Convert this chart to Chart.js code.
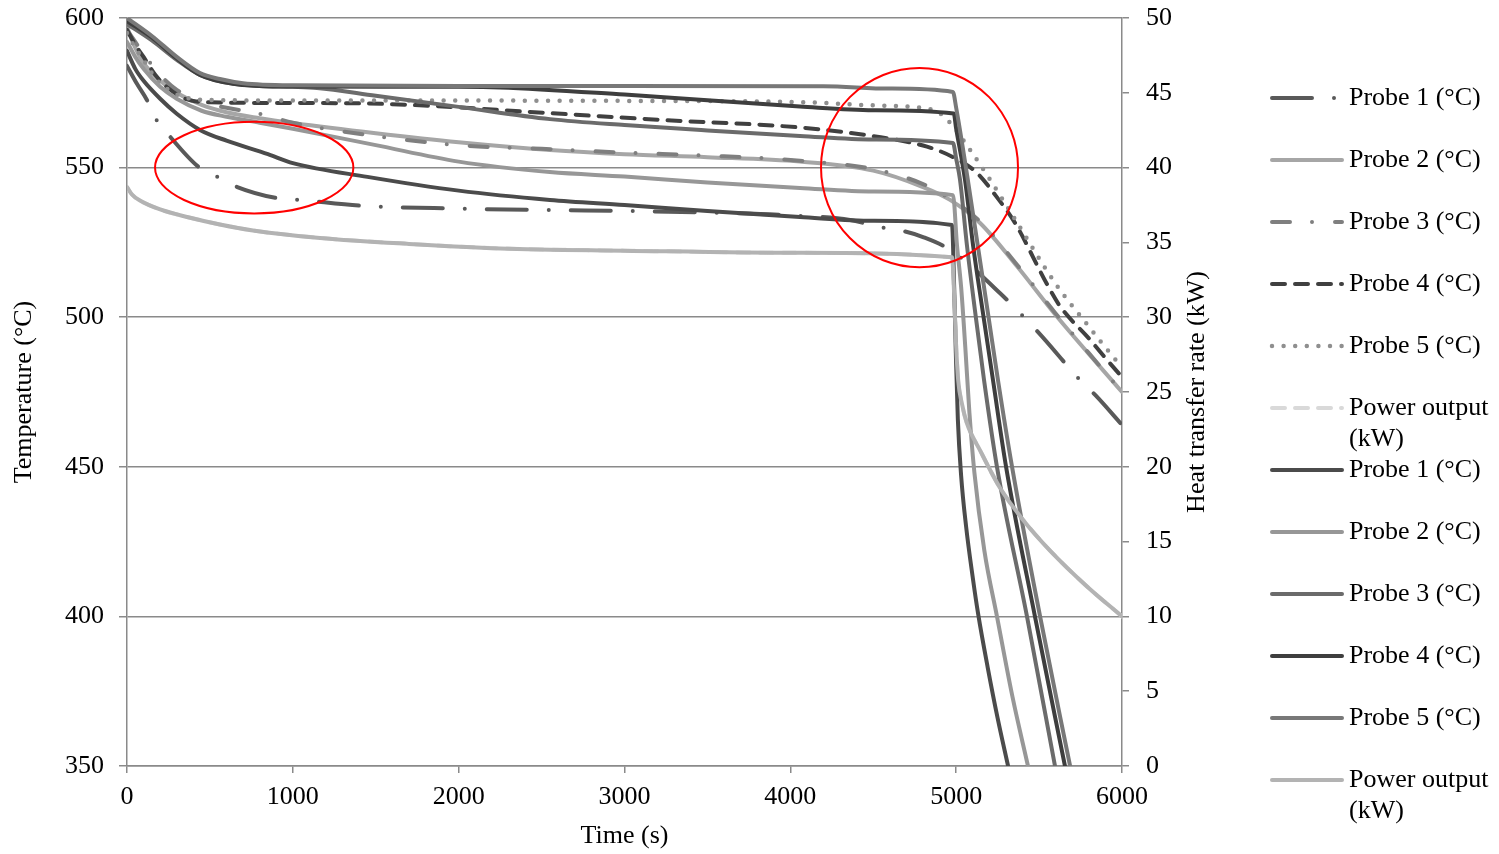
<!DOCTYPE html>
<html lang="en">
<head>
<meta charset="UTF-8">
<title>Probe temperatures and heat transfer rate</title>
<style>
  html, body { margin: 0; padding: 0; background: #fff; }
  #wrap { position: relative; width: 1499px; height: 854px; }
</style>
</head>
<body>
<div id="wrap"><canvas id="chart"></canvas></div>
<script src="https://cdn.jsdelivr.net/npm/chart.js"></script>
<script>
// Values: time (s) and temperature (°C) / power (kW)

// first group (patterned lines)
const p1aT = [0, 60, 120, 170, 250, 430, 545, 665, 905, 1045, 1400, 2000, 2550, 3000, 3500, 4000, 4360, 4540, 4680, 4800, 4963, 5265, 5494, 5747, 5844, 6000];
const p1aV = [584, 578, 572.6, 566.6, 561, 550.3, 546.9, 543.5, 539.8, 539.2, 537.3, 536.3, 535.8, 535.5, 535, 534, 532.5, 530.1, 528.8, 526.8, 522.5, 508, 495, 479, 473.7, 464];

const p2aT = [0, 50, 100, 200, 300, 450, 600, 800, 1000, 1500, 2000, 2550, 3000, 3500, 4058, 4500, 4800, 4963, 5144, 5367, 5596, 6000];
const p2aV = [597, 590, 585, 579, 575, 571, 568.5, 566.5, 564.9, 561.5, 558.5, 555.9, 554.5, 553.5, 552, 549, 543.5, 539.2, 531.5, 517, 501, 475];

const p3aT = [0, 50, 100, 200, 300, 450, 600, 800, 1000, 1240, 2000, 2500, 3000, 3500, 4058, 4500, 4800, 4963, 5144, 5367, 5596, 5800, 6000];
const p3aV = [596, 592, 588, 581, 576, 572, 570, 568, 565, 562.6, 557.5, 556.3, 555, 554, 552.3, 549.5, 544.5, 539.5, 532, 517.5, 501.5, 488, 475];

const p4aT = [0, 50, 100, 170, 250, 350, 500, 1000, 1600, 2550, 3200, 4058, 4500, 4824, 4981, 5120, 5243, 5355, 5548, 5626, 5807, 5898, 6000];
const p4aV = [596, 591, 587, 581, 576.5, 573, 571.8, 571.6, 571.2, 568.2, 566, 563.4, 560.5, 557, 553.5, 548.5, 540.3, 531.5, 511, 503.7, 492.5, 486.5, 480];

const p5aT = [0, 50, 100, 170, 250, 350, 500, 1000, 2000, 3000, 4058, 4500, 4860, 4963, 5083, 5192, 5307, 5608, 5777, 5958, 6000];
const p5aV = [595, 590, 586, 580, 576, 573.5, 572.6, 572.4, 572.4, 572.3, 571.9, 570.8, 569.3, 565, 556, 547, 537, 510.5, 498.5, 486, 483.4];

const powAT = [0, 30, 78, 200, 362, 560, 760, 1164, 1700, 2250, 3000, 4058, 4975, 4988, 4998, 5012, 5035, 5065, 5144, 5264, 5400, 5566, 5789, 6000];
const powAV = [38.7, 38.2, 37.8, 37.2, 36.7, 36.2, 35.8, 35.3, 34.9, 34.6, 34.45, 34.3, 34.0, 31.5, 28.5, 25.8, 24.2, 22.9, 21.1, 18.6, 16.5, 14.4, 12.0, 10.0];

// second group (solid lines)
const p1bT = [0, 50, 100, 200, 300, 440, 600, 850, 1000, 1450, 2000, 2550, 3000, 3500, 4058, 4500, 4975, 4988, 4998, 5010, 5030, 5060, 5100, 5132, 5190, 5250, 5313];
const p1bV = [589, 583, 579, 573, 568, 562.6, 559, 554.5, 551.5, 546.9, 542.3, 539.2, 537.5, 535.5, 533.5, 532.2, 530.8, 510, 488, 466, 447, 430, 413, 401, 383, 366, 350];

const p2bT = [0, 50, 100, 200, 300, 450, 600, 800, 1000, 1500, 2000, 2550, 3000, 3500, 4058, 4500, 4981, 5005, 5030, 5055, 5080, 5110, 5170, 5246, 5340, 5433];
const p2bV = [592, 587, 583, 577, 573, 569, 567, 565, 563, 557.5, 552, 548.5, 547, 545, 543.2, 542, 540.8, 524, 510, 490, 468, 448, 422, 400, 373, 350];

const p3bT = [0, 150, 300, 440, 640, 800, 1000, 1146, 1500, 2000, 2551, 3000, 3500, 4058, 4500, 4981, 5000, 5023, 5065, 5114, 5168, 5246, 5427, 5596];
const p3bV = [598, 592.5, 586, 581, 578, 577.3, 577, 576.6, 574, 570.3, 566.2, 564.2, 562.4, 560.6, 559.4, 558.2, 553, 546, 524, 502, 479, 450, 400, 350];

const p4bT = [0, 150, 300, 440, 640, 800, 1000, 2000, 2250, 3000, 3500, 4058, 4500, 4985, 5000, 5053, 5102, 5160, 5222, 5301, 5475, 5656];
const p4bV = [599, 593.5, 586.5, 581, 578, 577.3, 577.1, 577, 576.8, 574.4, 572.5, 570.4, 569.2, 568.1, 563, 546, 524, 502, 479, 450, 400, 350];

const p5bT = [0, 150, 300, 440, 560, 700, 1000, 2000, 3000, 4200, 4600, 4980, 5000, 5070, 5130, 5190, 5252, 5337, 5506, 5687];
const p5bV = [600, 594, 587, 581.6, 579.6, 578.2, 577.5, 577.3, 577.3, 577.2, 576.4, 575.3, 570, 546, 524, 502, 479, 450, 400, 350];

const powBT = powAT;
const powBV = powAV;

// tick ranges
const timeTicks = [0, 6000, 1000];
const tempTicks = [350, 600, 50];
const powerTicks = [0, 50, 5];

// red rings drawn on the plot (centre and half-axes in data units)
const ringX = [767, 4779];
const ringY = [550, 550];
const ringRx = [598, 594];
const ringRy = [15.3, 33.3];

const FONT = '"Liberation Serif", "Times New Roman", serif';

function pts(t, v) {
    return t.map((x, i) => ({ x: x, y: v[i] }));
}

const series = [
    { label: 'Probe 1 (°C)', data: pts(p1aT, p1aV), color: '#595959', dash: [40, 22, 0, 22], axis: 'y' },
    { label: 'Probe 2 (°C)', data: pts(p2aT, p2aV), color: '#a6a6a6', dash: [], axis: 'y' },
    { label: 'Probe 3 (°C)', data: pts(p3aT, p3aV), color: '#7f7f7f', dash: [18, 22, 0, 23], axis: 'y' },
    { label: 'Probe 4 (°C)', data: pts(p4aT, p4aV), color: '#404040', dash: [13, 10], axis: 'y' },
    { label: 'Probe 5 (°C)', data: pts(p5aT, p5aV), color: '#8f8f8f', dash: [0, 11.6], axis: 'y' },
    { label: 'Power output (kW)', data: pts(powAT, powAV), color: '#d9d9d9', dash: [13, 10], axis: 'y2' },
    { label: 'Probe 1 (°C)', data: pts(p1bT, p1bV), color: '#4b4b4b', dash: [], axis: 'y' },
    { label: 'Probe 2 (°C)', data: pts(p2bT, p2bV), color: '#979797', dash: [], axis: 'y' },
    { label: 'Probe 3 (°C)', data: pts(p3bT, p3bV), color: '#6b6b6b', dash: [], axis: 'y' },
    { label: 'Probe 4 (°C)', data: pts(p4bT, p4bV), color: '#3e3e3e', dash: [], axis: 'y' },
    { label: 'Probe 5 (°C)', data: pts(p5bT, p5bV), color: '#787878', dash: [], axis: 'y' },
    { label: 'Power output (kW)', data: pts(powBT, powBV), color: '#b3b3b3', dash: [], axis: 'y2' }
];

const datasets = series.map((s, i) => ({
    label: s.label,
    data: s.data,
    yAxisID: s.axis,
    borderColor: s.color,
    borderWidth: s.dash.length && s.dash[0] === 0 ? 4.5 : 4,
    borderDash: s.dash,
    borderCapStyle: 'round',
    borderJoinStyle: 'round',
    pointRadius: 0,
    fill: false,
    cubicInterpolationMode: 'monotone',
    order: series.length - i // later series on top, like the original
}));

// rings, right axis title and the legend
const extras = {
    id: 'extras',
    afterDatasetsDraw(chart) {
        const ctx = chart.ctx;
        const xs = chart.scales.x, ys = chart.scales.y;

        ctx.save();
        ctx.strokeStyle = '#ff0000';
        ctx.lineWidth = 2;
        for (let i = 0; i < ringX.length; i++) {
            const cx = xs.getPixelForValue(ringX[i]);
            const cy = ys.getPixelForValue(ringY[i]);
            const rx = xs.getPixelForValue(ringX[i] + ringRx[i]) - cx;
            const ry = ys.getPixelForValue(ringY[i] - ringRy[i]) - cy;
            ctx.beginPath();
            ctx.ellipse(cx, cy, rx, ry, 0, 0, Math.PI * 2);
            ctx.stroke();
        }
        ctx.restore();

        // right axis title, reading bottom to top
        ctx.save();
        ctx.font = '26px ' + FONT;
        ctx.fillStyle = '#000';
        ctx.textAlign = 'center';
        ctx.textBaseline = 'middle';
        ctx.translate(1197, (chart.chartArea.top + chart.chartArea.bottom) / 2);
        ctx.rotate(-Math.PI / 2);
        ctx.fillText('Heat transfer rate (kW)', 0, 0);
        ctx.restore();

        // legend
        ctx.save();
        ctx.font = '26px ' + FONT;
        ctx.textBaseline = 'middle';
        ctx.textAlign = 'left';
        series.forEach((s, i) => {
            const y = 98 + 62 * i;
            const ds = datasets[i];
            ctx.strokeStyle = ds.borderColor;
            ctx.lineWidth = ds.borderWidth;
            ctx.lineCap = 'round';
            ctx.setLineDash(ds.borderDash);
            ctx.beginPath();
            ctx.moveTo(1272, y);
            ctx.lineTo(1342, y);
            ctx.stroke();
            ctx.setLineDash([]);
            ctx.fillStyle = '#000';
            // wrap long labels by words
            const words = s.label.split(' ');
            let line = '', ly = y;
            words.forEach(w => {
                const test = line ? line + ' ' + w : w;
                if (ctx.measureText(test).width > 150 && line) {
                    ctx.fillText(line, 1349, ly);
                    line = w;
                    ly += 31;
                } else {
                    line = test;
                }
            });
            ctx.fillText(line, 1349, ly);
        });
        ctx.restore();
    }
};

const plain = v => String(v);

// fixed box sizes so the plot area lands where it is in the original
function fitV(w) {
    return scale => { scale.width = w; scale.paddingTop = 0; scale.paddingBottom = 0; };
}

new Chart(document.getElementById('chart'), {
    type: 'line',
    data: { datasets: datasets },
    options: {
        responsive: true,
        maintainAspectRatio: false,
        animation: false,
        devicePixelRatio: 1,
        layout: { padding: { left: 0, right: 274, top: 18, bottom: 0 } },
        plugins: {
            legend: { display: false },
            tooltip: { enabled: false }
        },
        scales: {
            x: {
                type: 'linear',
                min: timeTicks[0],
                max: timeTicks[1],
                afterFit(scale) { scale.height = 88; scale.paddingLeft = 0; scale.paddingRight = 0; },
                ticks: { stepSize: timeTicks[2], callback: plain, color: '#000', font: { family: FONT, size: 26 }, padding: 9, maxRotation: 0 },
                grid: { drawOnChartArea: false, tickLength: 7, color: '#8a8a8a', lineWidth: 1.5 },
                border: { color: '#8a8a8a', width: 1.5 },
                title: { display: true, text: 'Time (s)', color: '#000', font: { family: FONT, size: 26 }, padding: { top: 0, bottom: 2 } }
            },
            y: {
                type: 'linear',
                position: 'left',
                min: tempTicks[0],
                max: tempTicks[1],
                afterFit: fitV(127),
                ticks: { stepSize: tempTicks[2], callback: plain, color: '#000', font: { family: FONT, size: 26 }, padding: 15 },
                grid: { color: '#8a8a8a', lineWidth: 1.5, tickLength: 8 },
                border: { color: '#8a8a8a', width: 1.5 },
                title: { display: true, text: 'Temperature (°C)', color: '#000', font: { family: FONT, size: 26 }, padding: { top: 9, bottom: 0 } }
            },
            y2: {
                type: 'linear',
                position: 'right',
                min: powerTicks[0],
                max: powerTicks[1],
                afterFit: fitV(103),
                ticks: { stepSize: powerTicks[2], callback: plain, color: '#000', font: { family: FONT, size: 26 }, padding: 17 },
                grid: { drawOnChartArea: false, color: '#8a8a8a', lineWidth: 1.5, tickLength: 7 },
                border: { color: '#8a8a8a', width: 1.5 }
            }
        }
    },
    plugins: [extras]
});
</script>
</body>
</html>
